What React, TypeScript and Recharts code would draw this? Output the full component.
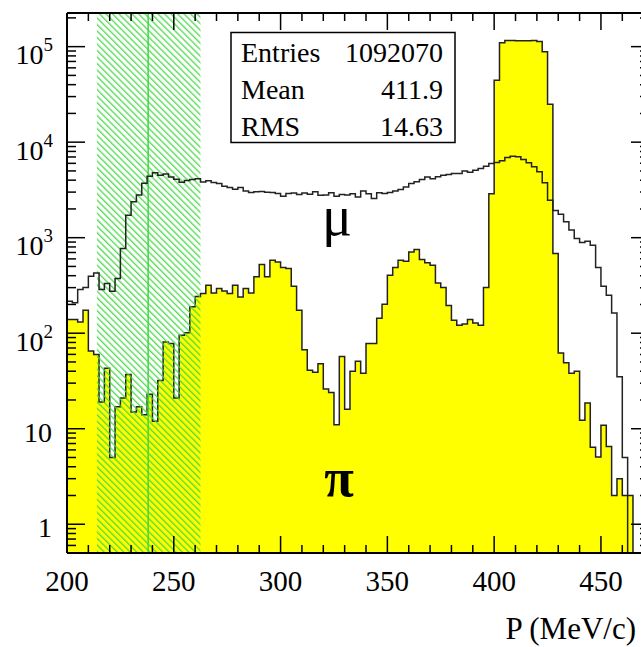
import React from 'react';
import {
  ComposedChart, Area, Line, XAxis, YAxis, ReferenceArea, ReferenceLine,
} from 'recharts';

// Histogram binning (MeV/c)
const BIN_LOW = 200;
const BIN_WIDTH = 2.5;

// mu (open black histogram) counts per bin
const muonCounts = [
  216, 208, 287, 301, 395, 428, 287, 331, 275, 374,
  771, 1720, 2380, 2790, 3720, 4400, 4780, 4510, 4650, 4330,
  4100, 3800, 3970, 4060, 4150, 3820, 3940, 3780, 3690, 3460,
  3355, 3220, 3355, 3090, 2970, 3020, 3046, 2995, 2970, 2904,
  2720, 2904, 2945, 2833, 2945, 2853, 3020, 2787, 2800, 2950,
  2720, 2833, 2790, 2880, 2660, 3090, 2880, 2570, 2950, 2904,
  2970, 3090, 3200, 3390, 3690, 3840, 4070, 4330, 4150, 4350,
  4500, 4580, 4700, 4700, 5000, 4830, 5095, 5310, 5610, 5980,
  6120, 6370, 6920, 7130, 7020, 6590, 6070, 5520, 4890, 3750,
  2470, 1920, 1760, 1465, 1200, 980, 890, 918, 834, 488,
  310, 250, 163, 35, 5, 0, 0, 0,
];

// pi (yellow filled histogram) counts per bin
const pionCounts = [
  139, 139, 131, 174, 65, 60, 19, 43, 5, 17,
  21, 37, 15, 17, 14, 23, 12, 32, 81, 78,
  21, 95, 101, 189, 242, 261, 318, 264, 294, 277,
  261, 318, 240, 294, 264, 389, 524, 389, 581, 558,
  488, 476, 310, 174, 67, 41, 39, 48, 26, 24,
  11, 57, 16, 40, 51, 38, 78, 78, 143, 201,
  405, 488, 581, 567, 710, 752, 591, 545, 515, 336,
  301, 195, 137, 121, 125, 139, 128, 121, 301, 2880,
  44600, 110000, 116000, 116000, 115000, 115500, 115000, 116000, 113000, 88300,
  25000, 683, 62, 49, 38, 40, 12.3, 18.6, 6.4, 5.07,
  10.9, 6.5, 2, 3, 2, 2, 0, 0,
];

const X_DOMAIN: [number, number] = [200, 472.5];
const Y_DOMAIN: [number, number] = [0.5, 225000];
const X_TICKS = [200, 210, 220, 230, 240, 250, 260, 270, 280, 290, 300, 310, 320, 330, 340,
  350, 360, 370, 380, 390, 400, 410, 420, 430, 440, 450, 460, 470];
const Y_TICKS = [0.6, 0.7, 0.8, 0.9,
  1, 2, 3, 4, 5, 6, 7, 8, 9,
  10, 20, 30, 40, 50, 60, 70, 80, 90,
  100, 200, 300, 400, 500, 600, 700, 800, 900,
  1000, 2000, 3000, 4000, 5000, 6000, 7000, 8000, 9000,
  10000, 20000, 30000, 40000, 50000, 60000, 70000, 80000, 90000,
  100000, 200000];

const CUT_LOW = 214;
const CUT_HIGH = 262.5;
const CUT_LINE = 238;

const STATS = [
  ['Entries', '1092070'],
  ['Mean', '411.9'],
  ['RMS', '14.63'],
];

// empty bins are drawn far below the frame (log axis cannot show zero)
const EMPTY = 1e-3;
const table = muonCounts.map((m, i) => ({
  p: BIN_LOW + i * BIN_WIDTH,
  mu: m > 0 ? m : EMPTY,
  pi: pionCounts[i] > 0 ? pionCounts[i] : EMPTY,
}));
table.push({ p: BIN_LOW + muonCounts.length * BIN_WIDTH, mu: EMPTY, pi: EMPTY });

const FONT = '"Liberation Serif", "Times New Roman", serif';
const HATCH = '#3fd83f';

const isDecade = (v: number) => Math.abs(Math.log10(v) - Math.round(Math.log10(v))) < 1e-9;

const BottomTick = (props: any) => {
  const { x, y, payload } = props;
  const major = payload.value % 50 === 0;
  return (
    <g>
      <line x1={x} x2={x} y1={y} y2={y - (major ? 17 : 8)} stroke="#000" strokeWidth={1.5} />
      {major && (
        <text x={x} y={y + 37.5} textAnchor="middle" fontFamily={FONT} fontSize={29} fill="#000">
          {payload.value}
        </text>
      )}
    </g>
  );
};

const TopTick = (props: any) => {
  const { x, y, payload } = props;
  const major = payload.value % 50 === 0;
  return <line x1={x} x2={x} y1={y} y2={y + (major ? 17 : 8)} stroke="#000" strokeWidth={1.5} />;
};

const LeftTick = (props: any) => {
  const { x, y, payload } = props;
  const v = payload.value;
  const major = isDecade(v);
  let label: React.ReactNode = null;
  if (major) {
    const e = Math.round(Math.log10(v));
    if (e <= 1) {
      label = (
        <text x={x - 15} y={y + 13} textAnchor="end" fontFamily={FONT} fontSize={28} fill="#000">
          {e === 0 ? '1' : '10'}
        </text>
      );
    } else {
      label = (
        <text x={x - 14} y={y + 17.5} textAnchor="end" fontFamily={FONT} fontSize={28} fill="#000">
          10
          <tspan dy={-13} fontSize={19}>{e}</tspan>
        </text>
      );
    }
  }
  return (
    <g>
      <line x1={x} x2={x + (major ? 18 : 9)} y1={y} y2={y} stroke="#000" strokeWidth={1.5} />
      {label}
    </g>
  );
};

const RightTick = (props: any) => {
  const { x, y, payload } = props;
  const major = isDecade(payload.value);
  return <line x1={x} x2={x - (major ? 18 : 9)} y1={y} y2={y} stroke="#000" strokeWidth={1.5} />;
};

export default function App() {
  return (
    <div style={{ position: 'relative', width: 660, height: 647 }}>
      <style>{'body{margin:0;overflow:hidden;background:#fff}'}</style>
      <ComposedChart
        width={660}
        height={647}
        data={table}
        margin={{ top: 12, right: 10, bottom: 93, left: 66 }}
      >
        <defs>
          <pattern id="hatch" patternUnits="userSpaceOnUse" width={4.6} height={4.6} patternTransform="rotate(-45)">
            <line x1={0.7} y1={0} x2={0.7} y2={4.6} stroke={HATCH} strokeWidth={1.2} />
          </pattern>
        </defs>
        <XAxis
          xAxisId="b" dataKey="p" type="number" domain={X_DOMAIN} allowDataOverflow
          ticks={X_TICKS} interval={0} height={1} tickSize={0} tickMargin={0}
          tickLine={false} axisLine={{ stroke: '#000', strokeWidth: 2 }}
          tick={(p: any) => <BottomTick {...p} />}
        />
        <XAxis
          xAxisId="t" orientation="top" dataKey="p" type="number" domain={X_DOMAIN} allowDataOverflow
          ticks={X_TICKS} interval={0} height={1} tickSize={0} tickMargin={0}
          tickLine={false} axisLine={{ stroke: '#000', strokeWidth: 2 }}
          tick={(p: any) => <TopTick {...p} />}
        />
        <YAxis
          yAxisId="l" type="number" scale="log" domain={Y_DOMAIN} allowDataOverflow
          ticks={Y_TICKS} interval={0} width={1} tickSize={0} tickMargin={0}
          tickLine={false} axisLine={{ stroke: '#000', strokeWidth: 2 }}
          tick={(p: any) => <LeftTick {...p} />}
        />
        <YAxis
          yAxisId="r" orientation="right" type="number" scale="log" domain={Y_DOMAIN} allowDataOverflow
          ticks={Y_TICKS} interval={0} width={1} tickSize={0} tickMargin={0}
          tickLine={false} axisLine={{ stroke: '#000', strokeWidth: 2 }}
          tick={(p: any) => <RightTick {...p} />}
        />
        <Area
          xAxisId="b" yAxisId="l" type="stepAfter" dataKey="pi" baseValue="dataMin"
          fill="#ffff00" fillOpacity={1} stroke="#222" strokeWidth={1.5}
          dot={false} activeDot={false} isAnimationActive={false}
        />
        <ReferenceArea
          xAxisId="b" yAxisId="l" x1={CUT_LOW} x2={CUT_HIGH}
          fill="url(#hatch)" fillOpacity={1} stroke="none" ifOverflow="hidden"
        />
        <ReferenceLine xAxisId="b" yAxisId="l" x={CUT_LINE} stroke={HATCH} strokeWidth={1.5} />
        <Line
          xAxisId="b" yAxisId="l" type="stepAfter" dataKey="mu"
          stroke="#222" strokeWidth={1.5} dot={false} activeDot={false} isAnimationActive={false}
        />
      </ComposedChart>
      <svg
        width={660}
        height={647}
        style={{ position: 'absolute', left: 0, top: 0, pointerEvents: 'none' }}
      >
        <rect x={231} y={32.5} width={224} height={110} fill="#fff" stroke="#000" strokeWidth={1.5} />
        {STATS.map(([k, v], i) => (
          <g key={k}>
            <text x={241} y={61.5 + i * 37} fontFamily={FONT} fontSize={28} fill="#000">{k}</text>
            <text x={443} y={61.5 + i * 37} textAnchor="end" fontFamily={FONT} fontSize={28} fill="#000">{v}</text>
          </g>
        ))}
        <text x={337} y={235} textAnchor="middle" fontFamily={FONT} fontSize={56} fill="#000">μ</text>
        <text x={339} y={496} textAnchor="middle" fontFamily={FONT} fontSize={54} fontWeight="bold" fill="#000">π</text>
        <text x={636} y={639} textAnchor="end" fontFamily={FONT} fontSize={31} fill="#000">P (MeV/c)</text>
      </svg>
    </div>
  );
}
